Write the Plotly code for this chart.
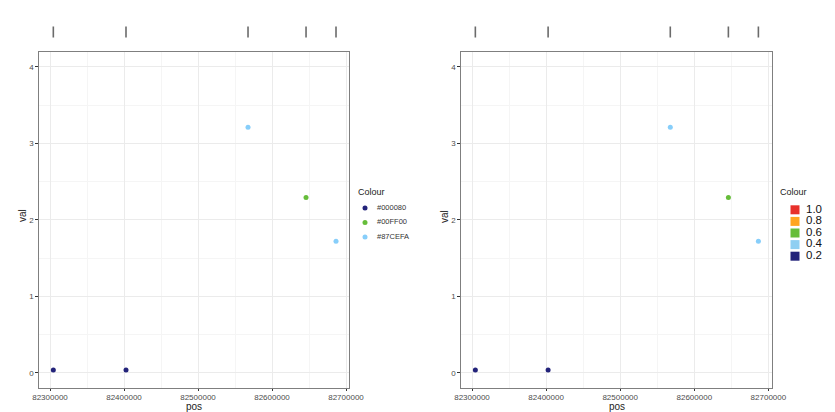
import plotly.graph_objects as go

# ---- data ----
pos = [82304500, 82402700, 82567600, 82646000, 82686500]
val = [0.035, 0.035, 3.21, 2.29, 1.72]
colour = ["#000080", "#000080", "#87CEFA", "#00FF00", "#87CEFA"]
colour_display = {"#000080": "#23237A", "#00FF00": "#66BD3A", "#87CEFA": "#87CEFA"}
groups = ["#000080", "#00FF00", "#87CEFA"]
legend_levels = ["1.0", "0.8", "0.6", "0.4", "0.2"]
legend_colours = ["#E8302A", "#FFA51F", "#66BD3A", "#8FCFF2", "#23237A"]
x_ticks = [82300000, 82400000, 82500000, 82600000, 82700000]
y_ticks = [0, 1, 2, 3, 4]

W, H = 835, 412
FONT = "Liberation Sans, Arial"
fig = go.Figure()

# left panel
for g in groups:
    xs = [p for p, c in zip(pos, colour) if c == g]
    ys = [v for v, c in zip(val, colour) if c == g]
    fig.add_trace(go.Scatter(x=xs, y=ys, mode="markers", name=g, showlegend=False,
                             marker=dict(color=colour_display[g], size=5),
                             xaxis="x", yaxis="y"))

# right panel
fig.add_trace(go.Scatter(x=pos, y=val, mode="markers", showlegend=False,
                         marker=dict(color=[colour_display[c] for c in colour], size=5),
                         xaxis="x2", yaxis="y2"))

# rugs
for xa, ya in (("x3", "y3"), ("x4", "y4")):
    fig.add_trace(go.Scatter(x=pos, y=[0.5] * len(pos), mode="markers", showlegend=False,
                             hoverinfo="skip",
                             marker=dict(symbol="line-ns-open", size=11, color="#6b6b6b",
                                         line=dict(color="#6b6b6b", width=1.6)),
                             xaxis=xa, yaxis=ya))

# left legend key (hidden axis x5/y5, pixel-like units)
n1 = len(groups)
fig.add_trace(go.Scatter(x=[7] * n1, y=list(range(n1 - 1, -1, -1)), mode="markers",
                         marker=dict(size=5, color=[colour_display[g] for g in groups]),
                         showlegend=False, hoverinfo="skip", cliponaxis=False,
                         xaxis="x5", yaxis="y5"))
fig.add_trace(go.Scatter(x=[19] * n1, y=list(range(n1 - 1, -1, -1)), mode="text",
                         text=groups, textposition="middle right",
                         textfont=dict(size=7.5, color="#333", family=FONT),
                         showlegend=False, hoverinfo="skip", cliponaxis=False,
                         xaxis="x5", yaxis="y5"))

# right legend key (hidden axis x6/y6)
n2 = len(legend_levels)
fig.add_trace(go.Scatter(x=[10] * n2, y=list(range(n2 - 1, -1, -1)), mode="markers",
                         marker=dict(symbol="square", size=9, color=legend_colours),
                         showlegend=False, hoverinfo="skip", cliponaxis=False,
                         xaxis="x6", yaxis="y6"))
fig.add_trace(go.Scatter(x=[21] * n2, y=list(range(n2 - 1, -1, -1)), mode="text",
                         text=legend_levels, textposition="middle right",
                         textfont=dict(size=11.5, color="#111", family=FONT),
                         showlegend=False, hoverinfo="skip", cliponaxis=False,
                         xaxis="x6", yaxis="y6"))

xr = [82285540, 82704460]
yr = [-0.196, 4.19]
ydom = [1 - 387.7 / H, 1 - 52.3 / H]
lx = [39.3 / W, 349.3 / W]
rx = [461.3 / W, 771.7 / W]
rug_dom = [1 - 37.5 / H, 1 - 26.5 / H]

tickfont = dict(size=8, color="#4d4d4d", family=FONT)

def xax(dom, anchor):
    return dict(domain=dom, anchor=anchor, range=xr, tickvals=x_ticks,
                ticktext=[str(t) for t in x_ticks], tickfont=tickfont,
                ticks="outside", ticklen=2, tickcolor="#333", automargin=False,
                showgrid=True, gridcolor="#ebebeb", gridwidth=0.6,
                minor=dict(dtick=50000, tick0=82250000, showgrid=True, gridcolor="#f5f5f5", gridwidth=0.5),
                showline=True, linecolor="#7f7f7f", linewidth=1, mirror=True,
                zeroline=False)

def yax(dom, anchor):
    return dict(domain=dom, anchor=anchor, range=yr, tickvals=y_ticks, tickfont=tickfont,
                ticks="outside", ticklen=3, tickcolor="#333", automargin=False,
                showgrid=True, gridcolor="#ebebeb", gridwidth=0.6,
                minor=dict(dtick=0.5, tick0=0, showgrid=True, gridcolor="#f5f5f5", gridwidth=0.5),
                showline=True, linecolor="#7f7f7f", linewidth=1, mirror=True,
                zeroline=False)

hidden = dict(visible=False, showgrid=False, zeroline=False, automargin=False)

def ann(text, x, y, size, color, angle=0, xanchor="left"):
    return dict(text=text, x=x / W, y=1 - y / H, xref="paper", yref="paper",
                xanchor=xanchor, yanchor="middle", showarrow=False,
                textangle=angle, font=dict(size=size, color=color, family=FONT))

fig.update_layout(
    width=W, height=H, margin=dict(l=0, r=0, t=0, b=0, pad=0, autoexpand=False),
    paper_bgcolor="white", plot_bgcolor="white",
    font=dict(family=FONT), showlegend=False,
    xaxis=xax(lx, "y"), yaxis=yax(ydom, "x"),
    xaxis2=xax(rx, "y2"), yaxis2=yax(ydom, "x2"),
    xaxis3=dict(domain=lx, anchor="y3", range=xr, **hidden),
    yaxis3=dict(domain=rug_dom, anchor="x3", range=[0, 1], **hidden),
    xaxis4=dict(domain=rx, anchor="y4", range=xr, **hidden),
    yaxis4=dict(domain=rug_dom, anchor="x4", range=[0, 1], **hidden),
    xaxis5=dict(domain=[358 / W, 418 / W], anchor="y5", range=[0, 60], **hidden),
    yaxis5=dict(domain=[1 - 244.25 / H, 1 - 200.75 / H], anchor="x5", range=[-0.5, 2.5], **hidden),
    xaxis6=dict(domain=[785 / W, 835 / W], anchor="y6", range=[0, 50], **hidden),
    yaxis6=dict(domain=[1 - 262 / H, 1 - 204 / H], anchor="x6", range=[-0.5, 4.5], **hidden),
    annotations=[
        ann("Colour", 356, 192, 9, "#222"),
        ann("Colour", 778, 192, 9, "#222"),
        ann("val", 22, 216, 10, "#222", -90, "center"),
        ann("val", 444, 216, 10, "#222", -90, "center"),
        ann("pos", 194.3, 406.5, 10, "#222", 0, "center"),
        ann("pos", 616.5, 406.5, 10, "#222", 0, "center"),
    ],
)

fig.write_html("out.html")
